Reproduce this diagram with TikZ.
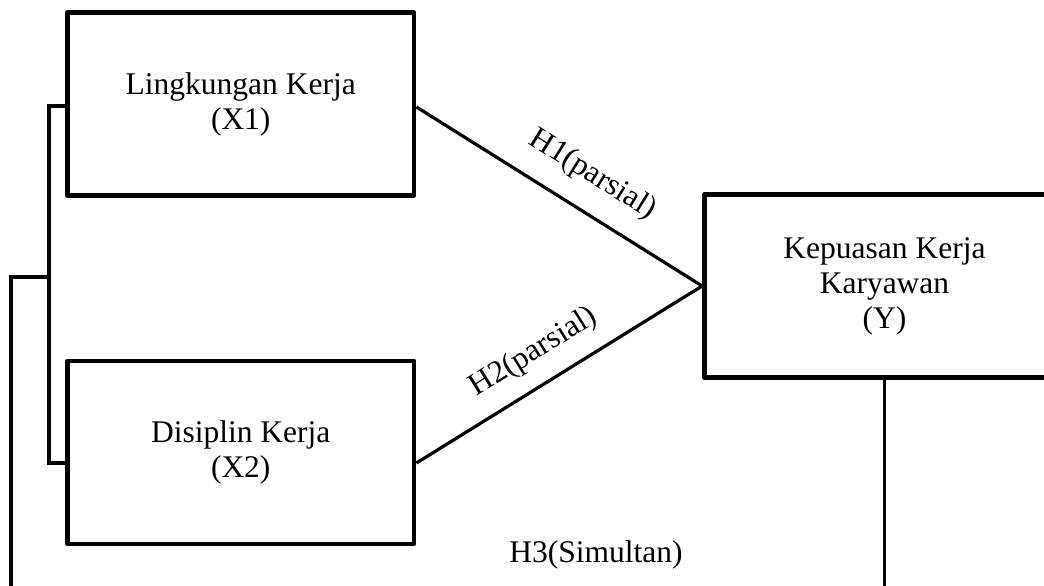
\documentclass[tikz,border=0pt]{standalone}
\usepackage{fontspec}
\setmainfont{Liberation Serif}
\begin{document}
\begin{tikzpicture}[x=1pt,y=-1pt,
  varbox/.style={draw, line width=4.8pt, line join=round, inner sep=0pt, align=center,
    font=\fontsize{31.5}{35}\selectfont},
  link/.style={line width=3.2pt},
  lbl/.style={inner sep=0pt, font=\fontsize{31.5}{35}\selectfont}]
\useasboundingbox (0,0) rectangle (1044,586);
\clip (0,0) rectangle (1044,586);
\node[varbox, minimum width=346.5pt, minimum height=183pt] (X1) at (240.75,104) {Lingkungan Kerja\\(X1)};
\node[varbox, minimum width=346.5pt, minimum height=183pt] (X2) at (240.75,452.5) {Disiplin Kerja\\(X2)};
\node[varbox, minimum width=360pt, minimum height=183pt] (Y) at (884.5,286) {Kepuasan Kerja\\Karyawan\\(Y)};
\coordinate (b1) at (49,106);
\coordinate (b2) at (49,463);
\coordinate (m) at (49,277);
\coordinate (l1) at (11,277);
\coordinate (l2) at (11,590);
\coordinate (r2) at (884.5,590);
\draw[link] (X1.west |- b1) -- (b1) -- (b2) -- (X2.west |- b2);
\draw[link] (m) -- (l1) -- (l2);
\draw[link] (Y.south) -- (r2);
\draw[link] (X1.east |- 0,107) -- node[lbl, pos=0.55, above=20pt, sloped] {H1(parsial)} (Y.west);
\draw[link] (X2.east |- 0,463) -- node[lbl, pos=0.47, above=16pt, sloped] {H2(parsial)} (Y.west);
\node[lbl] (H3) at (596,555) {H3(Simultan)};
\end{tikzpicture}
\end{document}
